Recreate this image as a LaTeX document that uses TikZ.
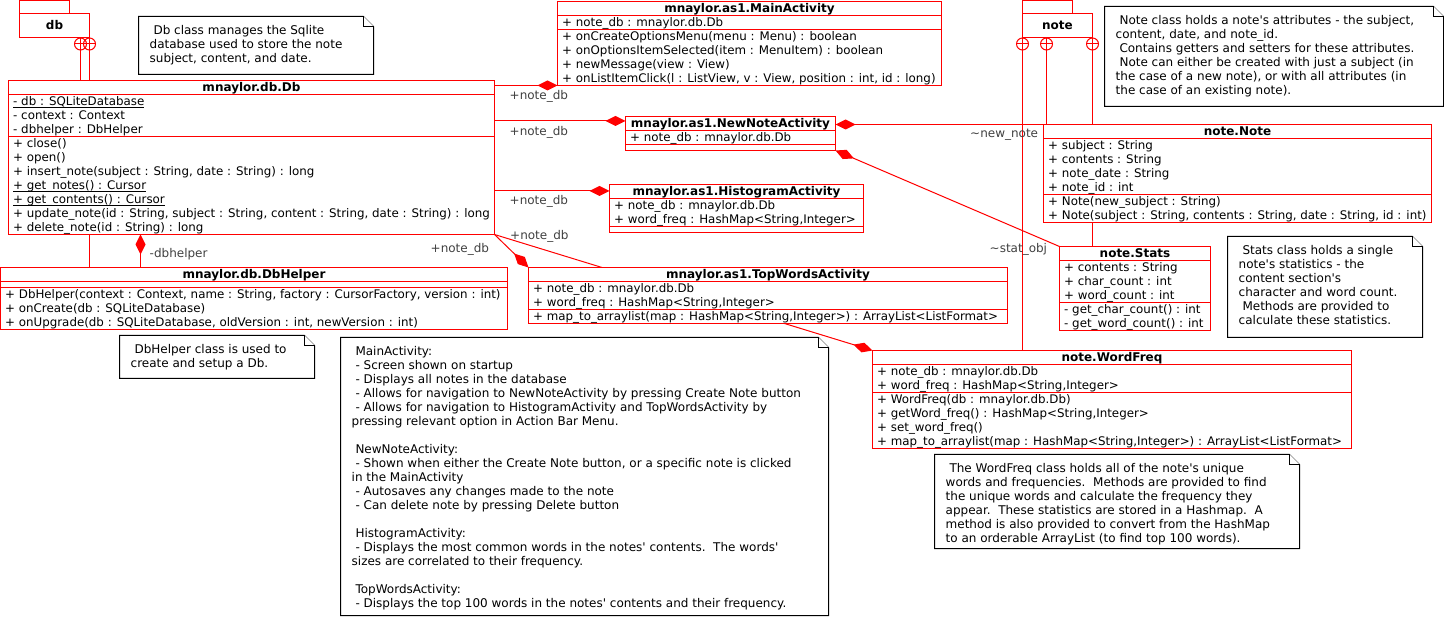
\documentclass[tikz,border=0pt]{standalone}
\usepackage{fontspec}
\setmainfont{DejaVu Sans}
\usetikzlibrary{arrows.meta,calc}
\pgfdeclarelayer{bg}
\pgfsetlayers{bg,main}
\definecolor{lblgray}{RGB}{64,64,64}
\newcommand{\sr}{\rule[-3pt]{0pt}{14pt}}
\newcommand{\q}{\textquotesingle}
\newcommand{\ul}[1]{\setbox0\hbox{#1}\rlap{\rule[-2.5pt]{\wd0}{1pt}}\box0}
\tikzset{
 ln/.style={draw=red, line width=1pt},
 cls/.style={draw=red, fill=white, line width=1pt, inner sep=0pt, outer sep=0pt, anchor=north west},
 sepl/.style={draw=red, line width=1pt},
 ttl/.style={anchor=north, inner sep=0pt, font=\fontsize{12}{14}\selectfont},
 txt/.style={anchor=north west, inner sep=0pt, align=left, font=\fontsize{12}{14}\selectfont},
 ctxt/.style={anchor=north west, inner sep=0pt, align=left, font=\fontsize{11.85}{14}\selectfont},
 nbox/.style={anchor=north west, inner sep=0pt, outer sep=0pt},
 nline/.style={draw=black, line width=1pt, fill=white},
 comp/.style={draw=red, line width=1pt, -{Diamond[length=20pt,width=10pt,fill=red]}},
 lbl/.style={anchor=base west, inner sep=0pt, text=lblgray, font=\fontsize{12}{14}\selectfont},
 pkgb/.style={draw=red, line width=1pt, fill=white, inner sep=0pt, outer sep=0pt, anchor=north west},
}
\newcommand{\umlclass}[9]{%
  \pgfmathsetmacro{\ya}{#3+14}%
  \pgfmathsetmacro{\yb}{#3+14+#6}%
  \pgfmathsetmacro{\hh}{14+#6+#8}%
  \node[cls, minimum width=#4pt, minimum height=\hh pt] (#1) at (#2,#3) {};
  \draw[sepl] (#2,\ya) -- ++(#4,0);
  \draw[sepl] (#2,\yb) -- ++(#4,0);
  \node[ttl] (#1-t) at (#1.north) {\sr\textbf{#5}};
  \node[ctxt] (#1-a) at (#2+4.5,\ya) {#7};
  \node[ctxt] (#1-m) at (#2+4.5,\yb) {#9};
}
\newcommand{\umlnote}[6]{%
  \node[nbox, minimum width=#4pt, minimum height=#5pt] (#1) at (#2,#3) {};
  \filldraw[nline] (#1.north west) -- ($(#1.north east)+(-10,0)$) -- ($(#1.north east)+(0,10)$) -- (#1.south east) -- (#1.south west) -- cycle;
  \draw[nline] ($(#1.north east)+(-10,0)$) -- ($(#1.north east)+(-10,10)$) -- ($(#1.north east)+(0,10)$);
  \node[txt] (#1-x) at (#2+11,#3+6.5) {#6};
}
\newcommand{\cplus}[2]{%
  \coordinate (#1) at #2;
  \draw[ln] (#1) circle[radius=6];
  \draw[ln] ($(#1)+(-6,0)$) -- ($(#1)+(6,0)$);
  \draw[ln] ($(#1)+(0,-6)$) -- ($(#1)+(0,6)$);
}
\begin{document}
\catcode`\_=12
\begin{tikzpicture}[x=1pt,y=-1pt]
\useasboundingbox (0,0) rectangle (1444,617);

% packages
\node[pkgb, minimum width=70pt, minimum height=24pt] (pdb) at (19.5,13.5) {};
\draw[ln] (pdb.north west) rectangle ++(50,-13);
\node[anchor=base, inner sep=0pt, font=\fontsize{12}{14}\selectfont\bfseries] (pdb-t) at ($(pdb.center)+(0,4)$) {db};
\node[pkgb, minimum width=70pt, minimum height=24pt] (pnote) at (1022.5,13.5) {};
\draw[ln] (pnote.north west) rectangle ++(50,-13);
\node[anchor=base, inner sep=0pt, font=\fontsize{12}{14}\selectfont\bfseries] (pnote-t) at ($(pnote.center)+(0,4)$) {note};

\cplus{cp1}{(80.5,44)}
\cplus{cp2}{(89.5,44)}
\cplus{cp3}{(1022.5,44)}
\cplus{cp4}{(1046.5,44)}
\cplus{cp5}{(1092.5,44)}

% classes
\umlclass{Db}{8.5}{80.5}{486}{mnaylor.db.Db}{42}{\sr\ul{- db : SQLiteDatabase}\\\sr- context : Context\\\sr- dbhelper : DbHelper}{98}{\sr+ close()\\\sr+ open()\\\sr+ insert_note(subject : String, date : String) : long\\\sr\ul{+ get_notes() : Cursor}\\\sr\ul{+ get_contents() : Cursor}\\\sr+ update_note(id : String, subject : String, content : String, date : String) : long\\\sr+ delete_note(id : String) : long}

\umlclass{MA}{557.5}{1.5}{384}{mnaylor.as1.MainActivity}{14}{\sr+ note_db : mnaylor.db.Db}{56}{\sr+ onCreateOptionsMenu(menu : Menu) : boolean\\\sr+ onOptionsItemSelected(item : MenuItem) : boolean\\\sr+ newMessage(view : View)\\\sr+ onListItemClick(l : ListView, v : View, position : int, id : long)}

\umlclass{NN}{625.5}{116.5}{210}{mnaylor.as1.NewNoteActivity}{14}{\sr+ note_db : mnaylor.db.Db}{6}{}

\umlclass{HA}{609.5}{184.5}{254}{mnaylor.as1.HistogramActivity}{28}{\sr+ note_db : mnaylor.db.Db\\\sr+ word_freq : HashMap<String,Integer>}{6}{}

\umlclass{TW}{528.5}{267.5}{479}{mnaylor.as1.TopWordsActivity}{28}{\sr+ note_db : mnaylor.db.Db\\\sr+ word_freq : HashMap<String,Integer>}{14}{\sr+ map_to_arraylist(map : HashMap<String,Integer>) : ArrayList<ListFormat>}

\umlclass{DH}{0.5}{267.5}{507}{mnaylor.db.DbHelper}{6}{}{42}{\sr+ DbHelper(context : Context, name : String, factory : CursorFactory, version : int)\\\sr+ onCreate(db : SQLiteDatabase)\\\sr+ onUpgrade(db : SQLiteDatabase, oldVersion : int, newVersion : int)}

\umlclass{NT}{1043.5}{124.5}{388}{note.Note}{56}{\sr+ subject : String\\\sr+ contents : String\\\sr+ note_date : String\\\sr+ note_id : int}{28}{\sr+ Note(new_subject : String)\\\sr+ Note(subject : String, contents : String, date : String, id : int)}

\umlclass{ST}{1059.5}{246.5}{151}{note.Stats}{42}{\sr+ contents : String\\\sr+ char_count : int\\\sr+ word_count : int}{28}{\sr- get_char_count() : int\\\sr- get_word_count() : int}

\umlclass{WF}{872.5}{350.5}{479}{note.WordFreq}{28}{\sr+ note_db : mnaylor.db.Db\\\sr+ word_freq : HashMap<String,Integer>}{56}{\sr+ WordFreq(db : mnaylor.db.Db)\\\sr+ getWord_freq() : HashMap<String,Integer>\\\sr+ set_word_freq()\\\sr+ map_to_arraylist(map : HashMap<String,Integer>) : ArrayList<ListFormat>}

% notes
\umlnote{n1}{138.5}{16.5}{235}{58}{\sr\ Db class manages the Sqlite\\\sr database used to store the note\\\sr subject, content, and date.}
\umlnote{n2}{1104.5}{6.5}{339}{100}{\sr\ Note class holds a note\q s attributes - the subject,\\\sr content, date, and note_id.\\\sr\ Contains getters and setters for these attributes.\\\sr\ Note can either be created with just a subject (in\\\sr the case of a new note), or with all attributes (in\\\sr the case of an existing note).}
\umlnote{n3}{119.5}{335.5}{195}{43}{\sr\ DbHelper class is used to\\\sr create and setup a Db.}
\umlnote{n4}{340.5}{337.5}{488}{278}{\sr\ MainActivity:\\\sr\ - Screen shown on startup\\\sr\ - Displays all notes in the database\\\sr\ - Allows for navigation to NewNoteActivity by pressing Create Note button\\\sr\ - Allows for navigation to HistogramActivity and TopWordsActivity by\\\sr pressing relevant option in Action Bar Menu.\\\sr\\\sr\ NewNoteActivity:\\\sr\ - Shown when either the Create Note button, or a specific note is clicked\\\sr in the MainActivity\\\sr\ - Autosaves any changes made to the note\\\sr\ - Can delete note by pressing Delete button\\\sr\\\sr\ HistogramActivity:\\\sr\ - Displays the most common words in the notes\q\ contents.\ \ The words\q\\\sr sizes are correlated to their frequency.\\\sr\\\sr\ TopWordsActivity:\\\sr\ - Displays the top 100 words in the notes\q\ contents and their frequency.}
\umlnote{n5}{1227.5}{236.5}{195}{101}{\sr\ Stats class holds a single\\\sr note\q s statistics - the\\\sr content section\q s\\\sr character and word count.\\\sr\ Methods are provided to\\\sr calculate these statistics.}
\umlnote{n6}{934.5}{454.5}{365}{94}{\sr\ The WordFreq class holds all of the note\q s unique\\\sr words and frequencies.\ \ Methods are provided to find\\\sr the unique words and calculate the frequency they\\\sr appear.\ \ These statistics are stored in a Hashmap.\ \ A\\\sr method is also provided to convert from the HashMap\\\sr to an orderable ArrayList (to find top 100 words).}

% connectors
\begin{pgfonlayer}{bg}
\draw[ln] ($(cp1)+(0,6)$) -- (cp1 |- Db.north);
\draw[ln] ($(cp2)+(0,6)$) -- (cp2 |- DH.north);
\draw[ln] ($(cp3)+(0,6)$) -- (cp3 |- WF.north);
\draw[ln] ($(cp4)+(0,6)$) -- (cp4 |- NT.north);
\draw[ln] ($(cp5)+(0,6)$) -- (cp5 |- ST.north);
\coordinate (nnin) at ($(NN.north west)+(0,4.5)$);
\coordinate (hain) at ($(HA.north west)+(0,6.5)$);
\coordinate (dhout) at ($(DH.north west)+(140,0)$);
\draw[comp] (Db.east |- MA.south west) -- (MA.south west);
\draw[comp] (Db.east |- nnin) -- (nnin);
\draw[comp] (Db.east |- hain) -- (hain);
\draw[comp] (Db.south east) -- (TW.north west);
\draw[comp] (Db.south east) -- (WF.north west);
\draw[comp] (dhout) -- (dhout |- Db.south);
\draw[comp] (NT.north west) -- (NN.east |- NT.north west);
\draw[comp] (ST.north west) -- (NN.south east);
\end{pgfonlayer}

% labels
\node[lbl] (l1) at (509.5,99.5) {+note_db};
\node[lbl] (l2) at (509.5,135.5) {+note_db};
\node[lbl] (l3) at (509.5,205) {+note_db};
\node[lbl] (l4) at (510,239.5) {+note_db};
\node[lbl] (l5) at (430.5,252.5) {+note_db};
\node[lbl] (l6) at (149.5,258) {-dbhelper};
\node[lbl] (l7) at (970,137.5) {\textasciitilde new_note};
\node[lbl] (l8) at (989.5,253) {\textasciitilde stat_obj};
\end{tikzpicture}
\end{document}
